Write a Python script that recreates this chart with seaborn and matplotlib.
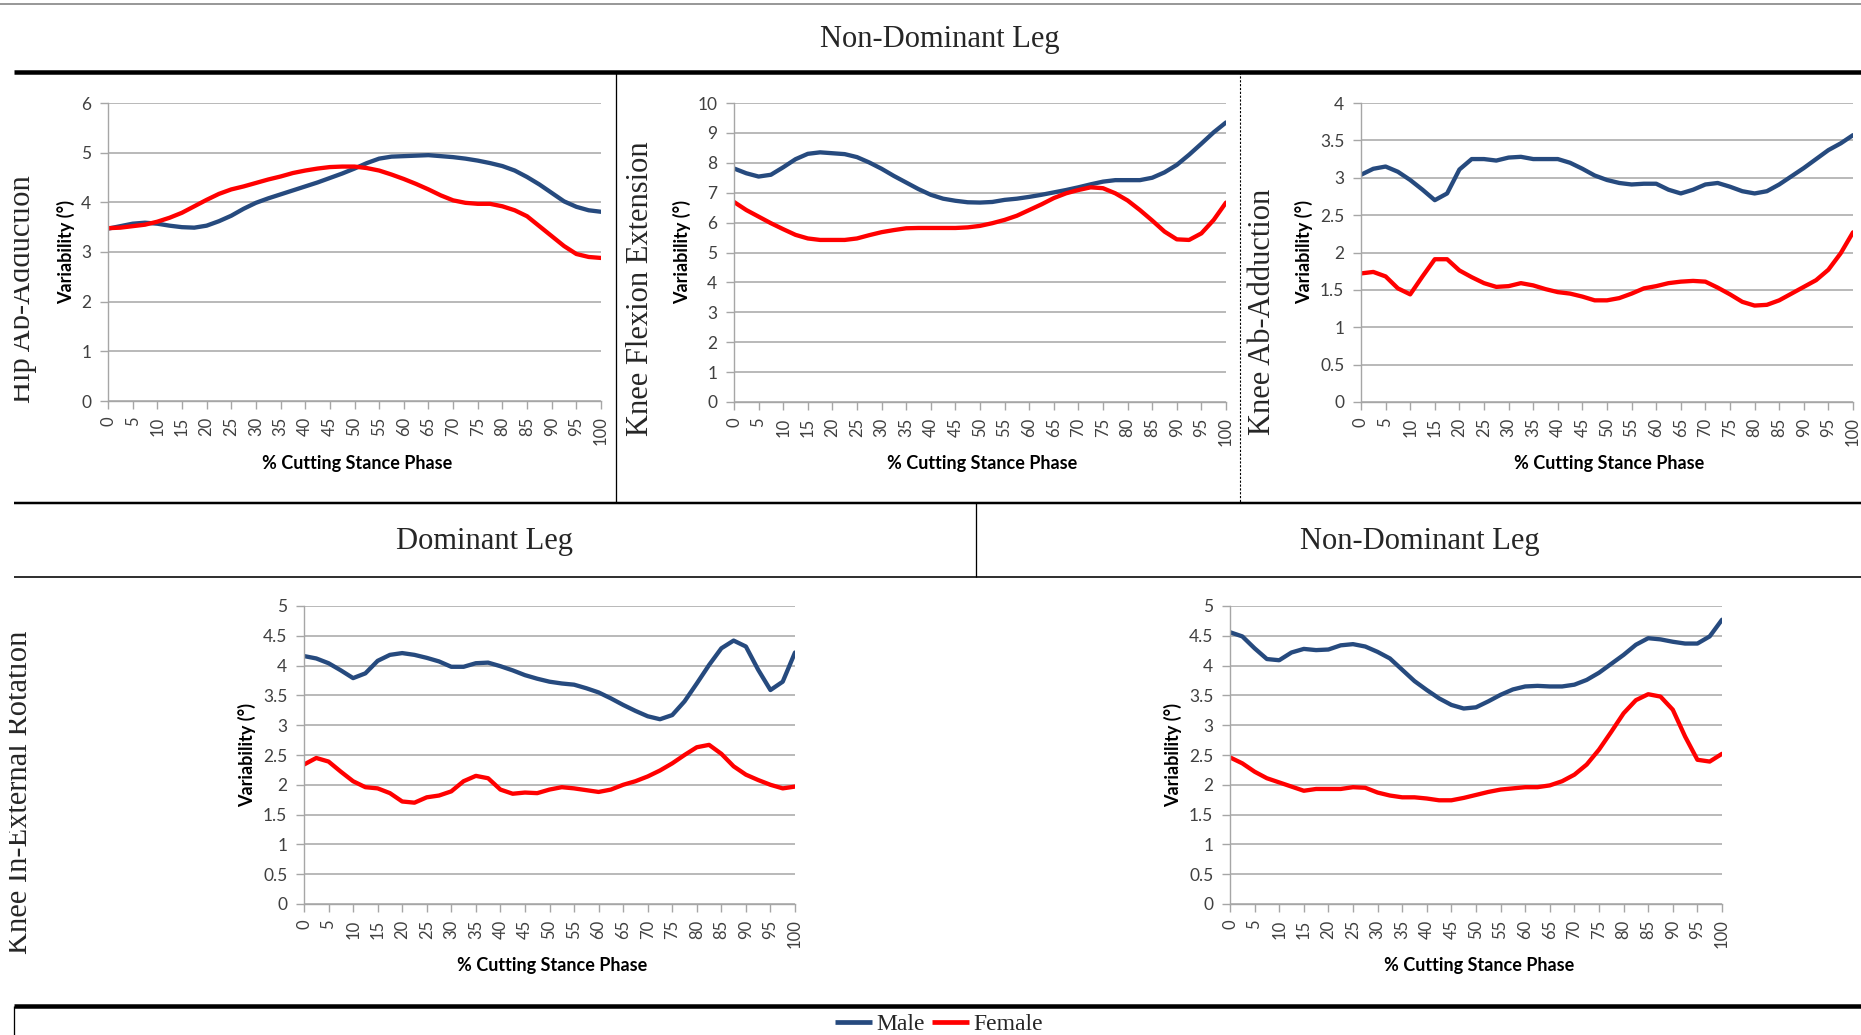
import matplotlib
matplotlib.use("Agg")
import numpy as np
import pandas as pd
import matplotlib.pyplot as plt
import seaborn as sns
from matplotlib.lines import Line2D
from matplotlib.ticker import FuncFormatter, MultipleLocator
from matplotlib.transforms import Bbox, TransformedBbox

# ----- DATI -----
PCT = [0, 2.5, 5, 7.5, 10, 12.5, 15, 17.5, 20, 22.5, 25, 27.5, 30, 32.5, 35, 37.5, 40,
       42.5, 45, 47.5, 50, 52.5, 55, 57.5, 60, 62.5, 65, 67.5, 70, 72.5, 75, 77.5, 80,
       82.5, 85, 87.5, 90, 92.5, 95, 97.5, 100]

hip_male = [3.47, 3.52, 3.57, 3.59, 3.57, 3.53, 3.50, 3.49, 3.53, 3.62, 3.73, 3.87, 3.99,
            4.08, 4.16, 4.24, 4.32, 4.40, 4.49, 4.58, 4.68, 4.79, 4.88, 4.92, 4.93, 4.94,
            4.95, 4.93, 4.91, 4.88, 4.84, 4.79, 4.73, 4.64, 4.51, 4.36, 4.19, 4.02, 3.91,
            3.84, 3.81]
hip_female = [3.48, 3.49, 3.52, 3.55, 3.61, 3.69, 3.79, 3.92, 4.05, 4.17, 4.26, 4.32, 4.39,
              4.46, 4.52, 4.59, 4.64, 4.68, 4.71, 4.72, 4.72, 4.69, 4.64, 4.56, 4.47, 4.37,
              4.26, 4.14, 4.04, 3.99, 3.97, 3.97, 3.92, 3.84, 3.72, 3.52, 3.32, 3.12, 2.96,
              2.90, 2.88]

kfe_male = [7.81, 7.65, 7.54, 7.60, 7.85, 8.12, 8.30, 8.35, 8.32, 8.29, 8.19, 8.01, 7.80,
            7.56, 7.34, 7.12, 6.93, 6.80, 6.73, 6.68, 6.67, 6.69, 6.76, 6.80, 6.86, 6.93,
            7.01, 7.09, 7.18, 7.28, 7.37, 7.42, 7.42, 7.42, 7.50, 7.68, 7.93, 8.27, 8.64,
            9.02, 9.35]
kfe_female = [6.69, 6.42, 6.20, 5.98, 5.78, 5.59, 5.47, 5.42, 5.42, 5.42, 5.47, 5.58, 5.68,
              5.75, 5.81, 5.82, 5.82, 5.82, 5.82, 5.84, 5.89, 5.98, 6.09, 6.23, 6.42, 6.61,
              6.82, 6.98, 7.09, 7.18, 7.15, 6.98, 6.74, 6.42, 6.07, 5.70, 5.44, 5.42, 5.64,
              6.09, 6.67]

kaa_male = [3.04, 3.12, 3.15, 3.08, 2.97, 2.84, 2.70, 2.79, 3.11, 3.25, 3.25, 3.23, 3.27,
            3.28, 3.25, 3.25, 3.25, 3.20, 3.12, 3.03, 2.97, 2.93, 2.91, 2.92, 2.92, 2.84,
            2.79, 2.84, 2.91, 2.93, 2.88, 2.82, 2.79, 2.82, 2.91, 3.02, 3.13, 3.25, 3.37,
            3.46, 3.57]
kaa_female = [1.72, 1.74, 1.68, 1.52, 1.44, 1.68, 1.91, 1.91, 1.76, 1.67, 1.59, 1.54, 1.55,
              1.59, 1.56, 1.51, 1.47, 1.45, 1.41, 1.36, 1.36, 1.39, 1.45, 1.52, 1.55, 1.59,
              1.61, 1.62, 1.61, 1.53, 1.44, 1.34, 1.29, 1.30, 1.36, 1.45, 1.54, 1.63, 1.77,
              1.99, 2.27]

kier_dom_male = [4.16, 4.12, 4.04, 3.92, 3.79, 3.87, 4.08, 4.18, 4.21, 4.18, 4.13, 4.07,
                 3.98, 3.98, 4.04, 4.05, 3.99, 3.92, 3.84, 3.78, 3.73, 3.70, 3.68, 3.62,
                 3.55, 3.45, 3.34, 3.24, 3.15, 3.10, 3.17, 3.40, 3.70, 4.01, 4.29, 4.42,
                 4.32, 3.93, 3.59, 3.73, 4.22]
kier_dom_female = [2.34, 2.45, 2.39, 2.22, 2.06, 1.96, 1.94, 1.86, 1.72, 1.70, 1.79, 1.82,
                   1.89, 2.06, 2.15, 2.11, 1.92, 1.85, 1.87, 1.86, 1.92, 1.96, 1.94, 1.91,
                   1.88, 1.92, 2.00, 2.06, 2.14, 2.24, 2.36, 2.50, 2.63, 2.67, 2.52, 2.31,
                   2.17, 2.08, 2.00, 1.94, 1.97]

kier_nd_male = [4.56, 4.49, 4.29, 4.11, 4.09, 4.22, 4.28, 4.26, 4.27, 4.34, 4.36, 4.32,
                4.23, 4.12, 3.93, 3.74, 3.59, 3.45, 3.34, 3.28, 3.30, 3.40, 3.51, 3.60,
                3.65, 3.66, 3.65, 3.65, 3.68, 3.76, 3.88, 4.03, 4.18, 4.35, 4.46, 4.44,
                4.40, 4.37, 4.37, 4.49, 4.77]
kier_nd_female = [2.46, 2.36, 2.22, 2.11, 2.04, 1.97, 1.90, 1.93, 1.93, 1.93, 1.96, 1.95,
                  1.87, 1.82, 1.79, 1.79, 1.77, 1.74, 1.74, 1.78, 1.83, 1.88, 1.92, 1.94,
                  1.96, 1.96, 1.99, 2.06, 2.17, 2.34, 2.59, 2.89, 3.20, 3.42, 3.52, 3.48,
                  3.26, 2.81, 2.42, 2.39, 2.52]

SEXES = ["Male", "Female"]
COLORS = {"Male": "#264a7e", "Female": "#ff0000"}

XLABEL = "% Cutting Stance Phase"
YLABEL = "Variability (°)"

# ----- LAYOUT (pixel) -----
W, H = 1861, 1035
SERIF = "Liberation Serif"
SANS = "Lato"

sns.set_style("white")
plt.rcParams["font.family"] = [SANS, "DejaVu Sans"]


def fx(x):
    return x / W


def fy(y):
    return 1 - y / H


def line(fig, x0, y0, x1, y1, lw_px, color="black", ls="-"):
    fig.add_artist(Line2D([fx(x0), fx(x1)], [fy(y0), fy(y1)], transform=fig.transFigure,
                          color=color, lw=lw_px * 0.72, linestyle=ls, solid_capstyle="butt"))


def make_df(male, female):
    return pd.DataFrame({
        "pct": PCT * 2,
        "var": male + female,
        "sex": ["Male"] * len(PCT) + ["Female"] * len(PCT),
    })


def panel(fig, box, male, female, ymax, ystep, ylab_xy, xlab_xy):
    l, t, r, b = box
    ax = fig.add_axes([fx(l), fy(b), fx(r - l), (b - t) / H])
    df = make_df(male, female)
    sns.lineplot(data=df, x="pct", y="var", hue="sex", hue_order=SEXES, palette=COLORS,
                 linewidth=3.1, legend=False, ax=ax, estimator=None)
    for ln in ax.lines:
        ln.set_solid_joinstyle("round")
        ln.set_solid_capstyle("round")
    ax.set_xlim(0, 100)
    ax.set_ylim(0, ymax)
    ax.xaxis.set_major_locator(MultipleLocator(5))
    ax.yaxis.set_major_locator(MultipleLocator(ystep))
    ax.xaxis.set_major_formatter(FuncFormatter(lambda v, p: f"{v:g}"))
    ax.yaxis.set_major_formatter(FuncFormatter(lambda v, p: f"{v:g}"))
    ax.grid(axis="y", color="#a6a6a6", lw=1.1)
    ax.grid(axis="x", visible=False)
    ax.set_axisbelow(True)
    for s in ["top", "right"]:
        ax.spines[s].set_visible(False)
    for s in ["left", "bottom"]:
        ax.spines[s].set_color("#a6a6a6")
        ax.spines[s].set_linewidth(1.0)
    ax.tick_params(axis="x", bottom=True, length=6, width=1, color="#a6a6a6", pad=5,
                   labelsize=12, labelcolor="#404040", labelrotation=90)
    ax.tick_params(axis="y", left=True, length=6, width=1, color="#a6a6a6", pad=6,
                   labelsize=12.5, labelcolor="#404040")
    ax.set_xlabel("")
    ax.set_ylabel("")
    fig.text(fx(ylab_xy[0]), fy(ylab_xy[1]), YLABEL, rotation=90, ha="center", va="center",
             fontsize=13, fontweight="bold", color="black")
    fig.text(fx(xlab_xy[0]), fy(xlab_xy[1]), XLABEL, ha="center", va="center",
             fontsize=13, fontweight="bold", color="black")
    return ax


fig = plt.figure(figsize=(W / 100, H / 100), dpi=100)

# pannelli
panel(fig, (108, 103, 601, 401), hip_male, hip_female, 6, 1, (66, 252), (357, 463))
panel(fig, (734, 103, 1226, 402), kfe_male, kfe_female, 10, 1, (682, 252), (982, 463))
panel(fig, (1361, 103, 1853, 402), kaa_male, kaa_female, 4, 0.5, (1304, 252), (1609, 463))
panel(fig, (304, 606, 795, 904), kier_dom_male, kier_dom_female, 5, 0.5, (247, 755), (552, 965))
panel(fig, (1230, 606, 1722, 904), kier_nd_male, kier_nd_female, 5, 0.5, (1173, 755), (1479, 965))

# linee della tabella
line(fig, 0, 4, W, 4, 1.6, color="#808080")
line(fig, 14, 72, W, 72, 4.5)
line(fig, 616, 72, 616, 503, 1.3)
line(fig, 1240, 72, 1240, 503, 1.1, ls=(0, (2, 1.5)))
line(fig, 14, 503, W, 503, 2.5)
line(fig, 976, 503, 976, 577, 1.3)
line(fig, 14, 577, W, 577, 1.6)
line(fig, 14, 1006, W, 1006, 4.5)
line(fig, 14, 1006, 14, H, 1.3)

# titoli
fig.text(fx(940), fy(39), "Non-Dominant Leg", ha="center", va="center",
         fontsize=22, family=SERIF)
fig.text(fx(484), fy(541), "Dominant Leg", ha="center", va="center",
         fontsize=22, family=SERIF)
fig.text(fx(1420), fy(541), "Non-Dominant Leg", ha="center", va="center",
         fontsize=22, family=SERIF)

# etichette di riga (ruotate, alcune tagliate dal bordo)
row_labels = [
    ("Hip Ab-Adduction", 22, 289, 14),
    ("Knee Flexion Extension", 640, 289, None),
    ("Knee Ab-Adduction", 1263, 312, None),
    ("Knee In-External Rotation", 20, 792, 9),
]
for txt, x, y, clip_x in row_labels:
    t = fig.text(fx(x), fy(y), txt, rotation=90, ha="center", va="center",
                 fontsize=22, family=SERIF)
    if clip_x is not None:
        t.set_clip_box(TransformedBbox(Bbox.from_extents(fx(clip_x), 0, 1, 1), fig.transFigure))
        t.set_clip_on(True)

# legenda
handles = [Line2D([], [], color=COLORS[s], lw=3.4, solid_capstyle="butt") for s in SEXES]
fig.legend(handles, SEXES, loc="center", bbox_to_anchor=(fx(939), fy(1024)), ncol=2,
           frameon=False, handlelength=1.55, handletextpad=0.2, columnspacing=0.3,
           prop={"family": SERIF, "size": 17}, borderaxespad=0, borderpad=0)

plt.savefig("out.png", dpi=100)
plt.close()
